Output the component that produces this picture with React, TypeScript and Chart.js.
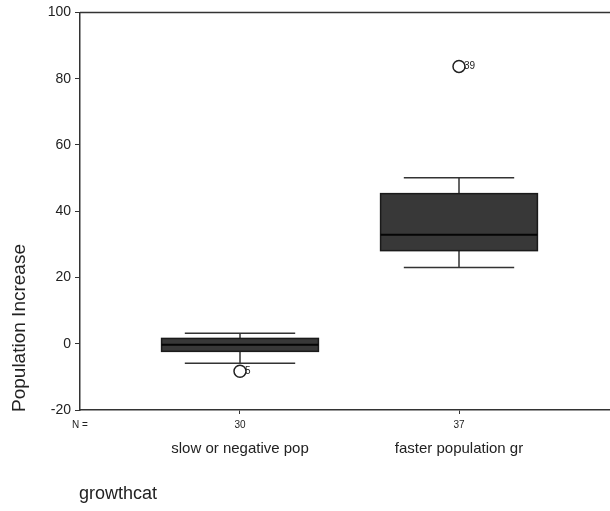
import React, { useEffect, useRef } from "react";
import { Chart, registerables } from "chart.js";

Chart.register(...registerables);

const categories = ["slow or negative pop", "faster population gr"];
const counts = [30, 37];
const whiskerLow = [-5.9, 23.0];
const q1 = [-2.3, 28.1];
const median = [-0.3, 32.9];
const q3 = [1.6, 45.3];
const whiskerHigh = [3.2, 50.1];
const outlierCategory = [1, 2];
const outlierValues = [-8.3, 83.7];
const outlierLabels = ["5", "39"];
const yTicks = [-20, 0, 20, 40, 60, 80, 100];

const FONT = "Arial, 'Liberation Sans', sans-serif";
const BOX_HALF = 0.358;
const CAP_HALF = 0.252;

const boxPlugin = {
  id: "boxDraw",
  beforeDatasetsDraw(chart: any) {
    const { ctx, chartArea, scales } = chart;
    const xs = scales.x;
    const ys = scales.y;
    ctx.save();
    ctx.strokeStyle = "#333";
    ctx.lineWidth = 1.5;
    ctx.beginPath();
    ctx.moveTo(chartArea.left, chartArea.top);
    ctx.lineTo(chartArea.right, chartArea.top);
    ctx.stroke();

    categories.forEach((_, i) => {
      const c = i + 1;
      const cx = xs.getPixelForValue(c);
      const bl = xs.getPixelForValue(c - BOX_HALF);
      const br = xs.getPixelForValue(c + BOX_HALF);
      const cl = xs.getPixelForValue(c - CAP_HALF);
      const cr = xs.getPixelForValue(c + CAP_HALF);
      const yq1 = ys.getPixelForValue(q1[i]);
      const yq3 = ys.getPixelForValue(q3[i]);
      const ymed = ys.getPixelForValue(median[i]);
      const ylo = ys.getPixelForValue(whiskerLow[i]);
      const yhi = ys.getPixelForValue(whiskerHigh[i]);

      ctx.strokeStyle = "#333";
      ctx.lineWidth = 1.5;
      ctx.beginPath();
      ctx.moveTo(cx, yq3);
      ctx.lineTo(cx, yhi);
      ctx.moveTo(cl, yhi);
      ctx.lineTo(cr, yhi);
      ctx.moveTo(cx, yq1);
      ctx.lineTo(cx, ylo);
      ctx.moveTo(cl, ylo);
      ctx.lineTo(cr, ylo);
      ctx.stroke();

      ctx.fillStyle = "#383838";
      ctx.fillRect(bl, yq3, br - bl, yq1 - yq3);
      ctx.strokeStyle = "#1a1a1a";
      ctx.lineWidth = 1.5;
      ctx.strokeRect(bl, yq3, br - bl, yq1 - yq3);

      ctx.strokeStyle = "#050505";
      ctx.lineWidth = 2;
      ctx.beginPath();
      ctx.moveTo(bl, ymed);
      ctx.lineTo(br, ymed);
      ctx.stroke();
    });
    ctx.restore();
  },
  afterDraw(chart: any) {
    const { ctx, chartArea, scales } = chart;
    const xs = scales.x;
    const ys = scales.y;
    ctx.save();
    ctx.fillStyle = "#222";
    ctx.font = `10px ${FONT}`;
    ctx.textAlign = "left";
    ctx.textBaseline = "middle";
    outlierValues.forEach((v, i) => {
      const px = xs.getPixelForValue(outlierCategory[i]);
      const py = ys.getPixelForValue(v);
      ctx.fillText(outlierLabels[i], px + 5, py);
    });
    ctx.font = `10px ${FONT}`;
    ctx.textAlign = "left";
    ctx.fillText("N =", 72, chartArea.bottom + 15);
    ctx.textAlign = "center";
    counts.forEach((n, i) => {
      ctx.fillText(String(n), xs.getPixelForValue(i + 1), chartArea.bottom + 15);
    });
    ctx.font = `15px ${FONT}`;
    categories.forEach((c, i) => {
      ctx.fillText(c, xs.getPixelForValue(i + 1), chartArea.bottom + 39);
    });
    ctx.font = `18px ${FONT}`;
    ctx.textAlign = "left";
    ctx.fillText("growthcat", 79, chartArea.bottom + 84);
    ctx.save();
    ctx.translate(20, 328);
    ctx.rotate(-Math.PI / 2);
    ctx.textAlign = "center";
    ctx.font = `19px ${FONT}`;
    ctx.fillText("Population Increase", 0, 0);
    ctx.restore();
    ctx.restore();
  },
};

export default function App() {
  const ref = useRef<HTMLCanvasElement | null>(null);
  useEffect(() => {
    if (!ref.current) return;
    const pxPerUnit = 219;
    const xMin = 1 - 160 / pxPerUnit;
    const xMax = xMin + 530 / pxPerUnit;
    const chart = new Chart(ref.current, {
      type: "scatter",
      data: {
        datasets: [
          {
            data: outlierValues.map((v, i) => ({ x: outlierCategory[i], y: v })),
            pointStyle: "circle",
            pointRadius: 6,
            pointBorderWidth: 1.5,
            pointBorderColor: "#222",
            pointBackgroundColor: "#fff",
          } as any,
        ],
      },
      options: {
        animation: false,
        responsive: true,
        maintainAspectRatio: false,
        layout: { autoPadding: false, padding: { top: 11, left: 0, right: 0, bottom: 0 } },
        plugins: { legend: { display: false }, tooltip: { enabled: false } },
        scales: {
          x: {
            type: "linear",
            min: xMin,
            max: xMax,
            afterBuildTicks: (s: any) => {
              s.ticks = categories.map((_, i) => ({ value: i + 1 }));
            },
            afterFit: (s: any) => {
              s.height = 101;
            },
            ticks: { display: false },
            grid: { display: true, drawOnChartArea: false, drawTicks: true, tickLength: 4, color: "#333", lineWidth: 1 },
            border: { display: true, color: "#333", width: 1.5 },
          },
          y: {
            type: "linear",
            min: -20,
            max: 100,
            afterBuildTicks: (s: any) => {
              s.ticks = yTicks.map((v) => ({ value: v }));
            },
            afterFit: (s: any) => {
              s.width = 80;
            },
            ticks: { color: "#222", font: { family: FONT, size: 14 }, padding: 4 },
            grid: { display: true, drawOnChartArea: false, drawTicks: true, tickLength: 5, color: "#333", lineWidth: 1 },
            border: { display: true, color: "#333", width: 1.5 },
          },
        },
      },
      plugins: [boxPlugin],
    });
    return () => chart.destroy();
  }, []);
  return (
    <div style={{ position: "fixed", left: 0, top: 0, width: 610, height: 511, background: "#fff" }}>
      <canvas ref={ref} />
    </div>
  );
}
